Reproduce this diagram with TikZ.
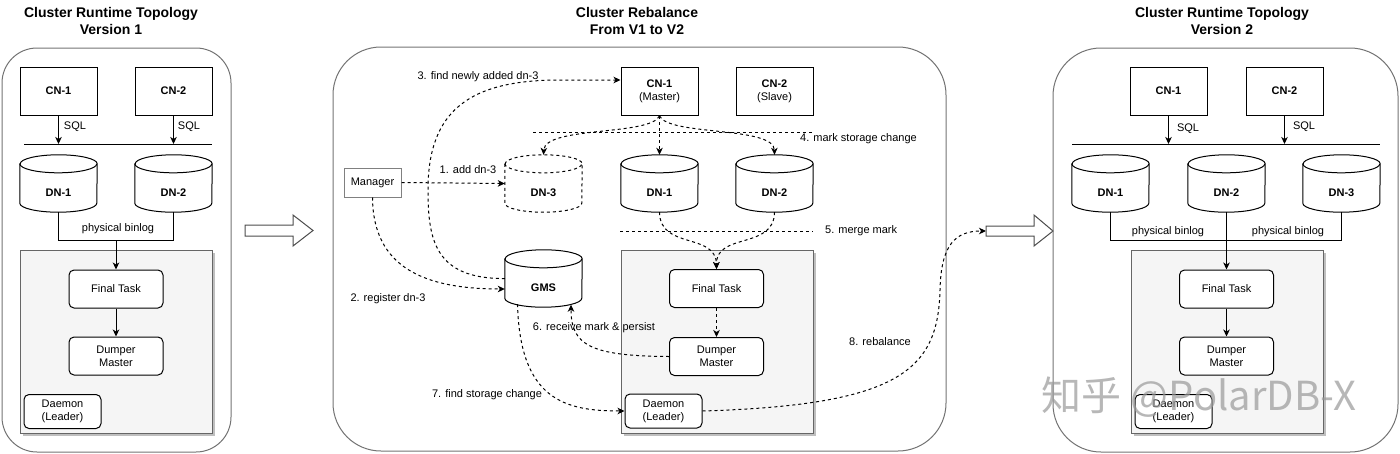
\documentclass[tikz,border=0pt]{standalone}
\usepackage{fontspec}
\setmainfont{Liberation Sans}
\newfontfamily\cjkfont{Noto Sans CJK SC}
\usetikzlibrary{arrows.meta,calc}
\newcommand\cylout[2][]{%
  \draw[line width=1pt,#1] ($(#2.north west)+(0,9)$) -- ($(#2.south west)+(0,-9)$)
    arc[start angle=180,end angle=360,x radius=38.5pt,y radius=9pt]
    -- ($(#2.north east)+(0,9)$)
    arc[start angle=0,end angle=180,x radius=38.5pt,y radius=9pt] -- cycle;
  \draw[line width=1pt,#1] ($(#2.north west)+(0,9)$)
    arc[start angle=180,end angle=360,x radius=38.5pt,y radius=9pt];}
\begin{document}
\begin{tikzpicture}[x=1pt,y=-1pt,
  font=\fontsize{11}{13}\selectfont,
  panel/.style={draw=black!55, line width=1pt, rounded corners=#1},
  title/.style={font=\fontsize{14}{17}\selectfont\bfseries, align=center},
  sqbox/.style={draw, line width=1pt, minimum width=77pt, minimum height=48pt, inner sep=0pt, align=center, font=\fontsize{11}{13}\selectfont\bfseries},
  rbox/.style={draw, fill=white, line width=1pt, rounded corners=5pt, minimum width=94pt, minimum height=38pt, inner sep=0pt, align=center},
  dbox/.style={draw, fill=white, line width=1pt, rounded corners=5pt, minimum width=77pt, minimum height=34pt, inner sep=0pt, align=center},
  cylnode/.style={minimum width=77pt, minimum height=57pt, inner sep=0pt, text height=25pt, text depth=0pt, font=\fontsize{11}{13}\selectfont\bfseries},
  greybox/.style={fill=black!4, draw=black!60, line width=1pt},
  shadowbox/.style={fill=black!25, draw=none},
  conn/.style={draw, line width=1pt, -{Stealth[length=7pt,width=6.5pt,inset=2pt]}},
  plain/.style={draw, line width=1pt},
  dconn/.style={conn, dash pattern=on 3pt off 3pt},
  dline/.style={draw, line width=1pt, dash pattern=on 3pt off 3pt},
  lbl/.style={inner sep=1pt, font=\fontsize{11}{13}\selectfont},
  hollow/.style={draw=black!70, fill=white, line width=1pt, line join=miter},
]
\useasboundingbox (0,0) rectangle (1400,453);

% ================= LEFT PANEL =================
\node[title] (t1) at (111,20.5) {Cluster Runtime Topology\\Version 1};
\draw[panel=35pt] (2,48) rectangle (231,452);
\node[sqbox] (cn1) at (58.5,91) {CN-1};
\node[sqbox] (cn2) at (173.5,91) {CN-2};
\coordinate (busla) at (24,144);
\coordinate (buslb) at (212,144);
\draw[plain] (busla) -- (buslb);
\draw[conn] (cn1.south) -- (cn1.south |- busla);
\draw[conn] (cn2.south) -- (cn2.south |- busla);
\node[lbl] (sql1) at (75,127) {SQL};
\node[lbl] (sql2) at (189,127) {SQL};
\node[cylnode] (dn1) at (58.5,183.5) {DN-1};
\node[cylnode] (dn2) at (173.5,183.5) {DN-2};
\cylout{dn1}\cylout{dn2}
\fill[shadowbox] (23,253) rectangle (215,436);
\draw[greybox] (20,250) rectangle (212,433);
\node[rbox] (ft1) at (116,289) {Final Task};
\node[rbox] (dm1) at (116,356) {Dumper\\Master};
\node[dbox] (da1) at (62.5,411.5) {Daemon\\(Leader)};
\coordinate (bl1) at (58.5,240);
\coordinate (bl2) at (173.5,240);
\draw[plain] (dn1.south) -- (bl1) -- (bl2) -- (dn2.south);
\draw[conn] (ft1.north |- bl1) -- (ft1.north);
\node[lbl] (pb1) at (118,229) {physical binlog};
\draw[conn] (ft1.south) -- (dm1.north);

% hollow arrow 1
\draw[hollow] (245,225) -- (293,225) -- (293,215) -- (313,230.5) -- (293,246) -- (293,236) -- (245,236) -- cycle;

% ================= MIDDLE PANEL =================
\node[title] (t2) at (637,20.5) {Cluster Rebalance\\From V1 to V2};
\draw[panel=48pt] (333,47) rectangle (946,451);
\node[sqbox] (cm1) at (659.5,91.5) {CN-1\\\mdseries(Master)};
\node[sqbox] (cm2) at (774.5,91.5) {CN-2\\\mdseries(Slave)};
\node[draw=black!50, line width=1pt, minimum width=57pt, minimum height=29pt, inner sep=0pt] (mgr) at (372.5,182.5) {Manager};
\node[cylnode] (dn3) at (543.5,183.5) {DN-3};
\node[cylnode] (dm1n) at (659.5,183.5) {DN-1};
\node[cylnode] (dm2n) at (774.5,183.5) {DN-2};
\node[cylnode] (gms) at (543.5,278.5) {GMS};
\cylout[dash pattern=on 3pt off 3pt]{dn3}
\cylout{dm1n}\cylout{dm2n}\cylout{gms}
\fill[shadowbox] (624,253) rectangle (816,436);
\draw[greybox] (621,250) rectangle (813,433);
\node[rbox] (ftm) at (716.5,288.5) {Final Task};
\node[rbox] (dmm) at (716.5,356.5) {Dumper\\Master};
\node[dbox] (dam) at (663.5,411) {Daemon\\(Leader)};

% separator lines
\coordinate (m4a) at (533,132); \coordinate (m4b) at (813,132);
\coordinate (m5a) at (620,231); \coordinate (m5b) at (813,231);
\draw[dline] (m4a) -- (m4b);
\draw[dline] (m5a) -- (m5b);

% 1
\draw[dconn] (mgr.east) -- (dn3.west);
\node[lbl] (l1) at (468,170) {1. add dn-3};
% 2
\draw[dconn] (mgr.south) .. controls (373,268) and (425,289) .. ($(gms.west)+(0,10.5)$);
\node[lbl] (l2) at (388,299) {2. register dn-3};
% 3
\draw[dconn] (gms.west) .. controls (435,279) and (428,240) .. (428,190)
   .. controls (428,110) and (470,80) .. (560,80) -- ($(cm1.west)+(0,-11.5)$);
\node[lbl] (l3) at (478,77) {3. find newly added dn-3};
% 4
\draw[dconn] (cm1.south) -- (dm1n.north);
\draw[dconn] (cm1.south) .. controls (650,136) and (545,126) .. (dn3.north);
\draw[dconn] (cm1.south) .. controls (669,136) and (774,126) .. (dm2n.north);
\node[lbl, anchor=west] (l4) at (799,139) {4. mark storage change};
% 5
\draw[dconn] (dm1n.south) .. controls (660,250) and (716,232) .. (ftm.north);
\draw[dconn] (dm2n.south) .. controls (774,250) and (716,232) .. (ftm.north);
\node[lbl, anchor=west] (l5) at (824,231) {5. merge mark};
\draw[dconn] (ftm.south) -- (dmm.north);
% 6
\draw[dconn] (dmm.west) .. controls (590,356) and (571,345) .. ($(gms.south)+(27.5,-2.5)$);
\node[lbl] (l6) at (594,328) {6. receive mark \& persist};
% 7
\draw[dconn] ($(gms.south)+(-26,-3)$) .. controls (520,400) and (565,411) .. (dam.west);
\node[lbl] (l7) at (487,395) {7. find storage change};
% 8
\coordinate (a2tail) at (986,231);
\draw[dconn] (dam.east) .. controls (900,405) and (938,370) .. (940,290)
   .. controls (941,245) and (955,231) .. (a2tail);
\node[lbl] (l8) at (880,342) {8. rebalance};

% hollow arrow 2
\draw[hollow] (a2tail) ++(0,-5) -- (1034,226) -- (1034,215) -- (1053,231) -- (1034,246) -- (1034,236) -- (986,236) -- cycle;

% ================= RIGHT PANEL =================
\node[title] (t3) at (1222,20.5) {Cluster Runtime Topology\\Version 2};
\draw[panel=48pt] (1053,48) rectangle (1398,452);
\node[sqbox] (cr1) at (1168.5,91) {CN-1};
\node[sqbox] (cr2) at (1284.5,91) {CN-2};
\coordinate (busra) at (1072,144);
\coordinate (busrb) at (1380,144);
\draw[plain] (busra) -- (busrb);
\draw[conn] (cr1.south) -- (cr1.south |- busra);
\draw[conn] (cr2.south) -- (cr2.south |- busra);
\node[lbl] (sqr1) at (1188,129) {SQL};
\node[lbl] (sqr2) at (1304,127) {SQL};
\node[cylnode] (dr1) at (1110.5,183.5) {DN-1};
\node[cylnode] (dr2) at (1226.5,183.5) {DN-2};
\node[cylnode] (dr3) at (1341.5,183.5) {DN-3};
\cylout{dr1}\cylout{dr2}\cylout{dr3}
\fill[shadowbox] (1134,253) rectangle (1326,436);
\draw[greybox] (1131,250) rectangle (1323,433);
\node[rbox] (ftr) at (1226.5,289) {Final Task};
\node[rbox] (dmr) at (1226.5,356) {Dumper\\Master};
\node[dbox] (dar) at (1173.5,411.5) {Daemon\\(Leader)};
\coordinate (br1) at (1110.5,240);
\coordinate (br3) at (1341.5,240);
\draw[plain] (dr1.south) -- (br1) -- (br3) -- (dr3.south);
\draw[conn] (dr2.south) -- (ftr.north);
\node[lbl] (pbr1) at (1168,232) {physical binlog};
\node[lbl] (pbr2) at (1288,232) {physical binlog};
\draw[conn] (ftr.south) -- (dmr.north);

% watermark
\node[text=black!40, opacity=0.7, font=\cjkfont\fontsize{40}{42}\selectfont, inner sep=0pt] (wm) at (1199,397) {知乎 @PolarDB-X};
\end{tikzpicture}
\end{document}
